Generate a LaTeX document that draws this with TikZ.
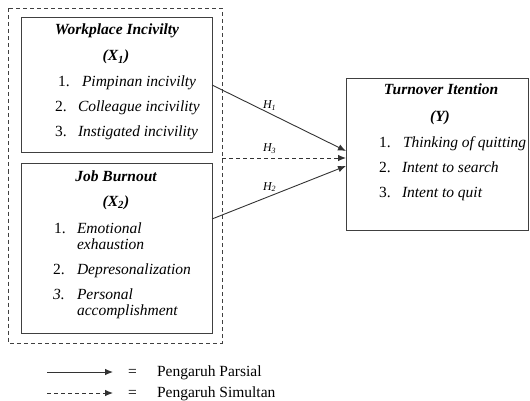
\documentclass[tikz,border=0pt]{standalone}
\usepackage{fontspec}
\setmainfont{Liberation Serif}
\usetikzlibrary{arrows.meta}
\begin{document}
\begin{tikzpicture}[x=1pt,y=-1pt,
  every node/.style={inner sep=0pt,outer sep=0pt,font=\fontsize{15.5}{18}\selectfont,text=black},
  varbox/.style={draw=black!75,line width=0.9pt},
  outerbox/.style={draw=black!75,line width=0.8pt,dash pattern=on 4pt off 3pt},
  ttl/.style={anchor=base,font=\fontsize{15.5}{18}\selectfont\bfseries\itshape},
  num/.style={anchor=base west},
  itm/.style={anchor=base west,font=\fontsize{15.5}{18}\selectfont\itshape},
  hyp/.style={anchor=base west,font=\fontsize{12}{14}\selectfont\itshape},
  conn/.style={draw=black!80,line width=0.9pt,-{Latex[length=8pt,width=6.5pt]}},
  dconn/.style={conn,dash pattern=on 4pt off 3pt}]
\useasboundingbox (0,0) rectangle (530,401);
% outer dashed box
\draw[outerbox] (8.5,8.5) rectangle (222,343);
% X1 box
\node[varbox,minimum width=191pt,minimum height=135pt,anchor=north west] (x1) at (21,17) {};
\node[ttl] (x1t) at (117,35) {Workplace Incivilty};
\node[ttl] (x1s) at (116,61) {(X\textsubscript{1})};
\node[num] (x1n1) at (58,87) {1.};
\node[itm] (x1i1) at (82,87) {Pimpinan incivilty};
\node[num] (x1n2) at (55,112) {2.};
\node[itm] (x1i2) at (78,112) {Colleague incivility};
\node[num] (x1n3) at (55,137) {3.};
\node[itm] (x1i3) at (78,137) {Instigated incivility};
% X2 box
\node[varbox,minimum width=191pt,minimum height=170pt,anchor=north west] (x2) at (21,163) {};
\node[ttl] (x2t) at (116,181) {Job Burnout};
\node[ttl] (x2s) at (116,206) {(X\textsubscript{2})};
\node[num] (x2n1) at (54,233) {1.};
\node[itm] (x2i1) at (77,233) {Emotional};
\node[itm] (x2i1b) at (77,249) {exhaustion};
\node[num] (x2n2) at (53,274) {2.};
\node[itm] (x2i2) at (77,274) {Depresonalization};
\node[itm] (x2n3) at (53,299) {3.};
\node[itm] (x2i3) at (77,299) {Personal};
\node[itm] (x2i3b) at (77,315) {accomplishment};
% Y box
\node[varbox,minimum width=182pt,minimum height=152pt,anchor=north west] (y) at (346,78) {};
\node[ttl] (yt) at (441,95) {Turnover Itention};
\node[ttl] (ys) at (440,122) {(Y)};
\node[num] (yn1) at (379,147) {1.};
\node[itm] (yi1) at (403,147) {Thinking of quitting};
\node[num] (yn2) at (379,172) {2.};
\node[itm] (yi2) at (402,172) {Intent to search};
\node[num] (yn3) at (379,197) {3.};
\node[itm] (yi3) at (402,197) {Intent to quit};
% connectors
\coordinate (h1s) at (x1.east |- 0,85);
\coordinate (h2s) at (x2.east |- 0,219);
\coordinate (h3s) at (222,158);
\coordinate (ye1) at (y.west |- 0,151);
\coordinate (ye3) at (y.west |- 0,158);
\coordinate (ye2) at (y.west |- 0,166);
\draw[conn] (h1s) -- (ye1);
\draw[dconn] (h3s) -- (ye3);
\draw[conn] (h2s) -- (ye2);
\node[hyp] (lh1) at (263,109) {H\textsubscript{1}};
\node[hyp] (lh3) at (263,152) {H\textsubscript{3}};
\node[hyp] (lh2) at (263,190) {H\textsubscript{2}};
% legend
\coordinate (l1a) at (47,372);
\coordinate (l1b) at (113,372);
\coordinate (l2a) at (47,393);
\coordinate (l2b) at (113,393);
\draw[conn] (l1a) -- (l1b);
\draw[dconn] (l2a) -- (l2b);
\node[num] (eq1) at (128,376) {=};
\node[num] (lt1) at (157,376) {Pengaruh Parsial};
\node[num] (eq2) at (128,397) {=};
\node[num] (lt2) at (157,397) {Pengaruh Simultan};
\end{tikzpicture}
\end{document}
